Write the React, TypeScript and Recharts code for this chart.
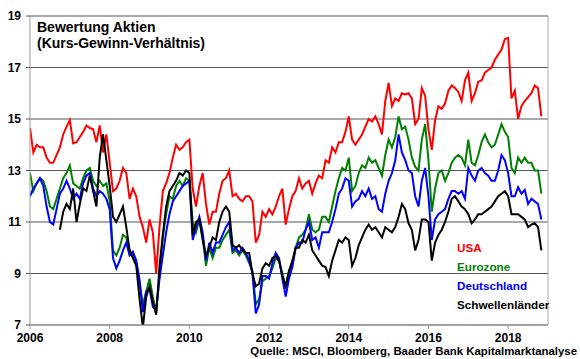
import React from 'react';
import { LineChart, Line, XAxis, YAxis, CartesianGrid, ReferenceLine } from 'recharts';

const FONT = '"Liberation Sans", Arial, sans-serif';

const startYear = 2006; // monthly observations, Jan 2006 .. Nov 2018
const xTicks = [2006, 2008, 2010, 2012, 2014, 2016, 2018];
const yTicks = [7, 9, 11, 13, 15, 17, 19];

const titleLines = ['Bewertung Aktien', '(Kurs-Gewinn-Verhältnis)'];
const seriesNames = ['USA', 'Eurozone', 'Deutschland', 'Schwellenländer'];
const seriesColors = ['#ff0000', '#008000', '#0000ff', '#000000'];
const source = 'Quelle: MSCI, Bloomberg, Baader Bank Kapitalmarktanalyse';

const usa = [
  14.65, 13.7, 14.0, 13.9, 13.9, 13.5, 13.3, 13.3, 13.6, 13.9, 14.4, 14.7,
  14.95, 14.05, 14.1, 14.3, 14.5, 14.75, 14.65, 14.6, 14.1, 14.75, 13.7, 14.4,
  13.3, 12.2, 12.3, 12.6, 13.1, 12.9, 11.9, 12.3, 12.0, 11.2, 10.8, 10.2,
  11.1, 10.6, 9.0, 10.8, 12.2, 12.5, 12.9, 13.5, 14.0, 13.8, 13.9, 14.1,
  14.2, 12.3, 11.6, 12.4, 12.9, 11.7, 10.9, 11.4, 11.4, 12.1, 12.6, 12.7,
  13.0, 12.0, 12.1, 11.9, 11.8, 12.0, 12.0, 11.8, 10.2, 10.5, 11.4, 11.2,
  11.5, 11.3, 11.6, 12.0, 12.3, 10.9, 11.5, 12.0, 12.2, 12.7, 12.3, 12.5,
  12.6, 12.1, 12.5, 12.8, 12.7, 13.4, 13.3, 13.9, 13.7, 14.1, 14.1, 14.5,
  15.1, 14.2, 14.0, 14.2, 14.4, 14.7, 15.0, 14.9, 15.1, 14.8, 14.4, 15.7,
  16.4, 15.5, 15.8, 15.7, 16.0, 15.95, 16.0, 15.8, 14.8, 15.0, 16.2, 15.9,
  14.6, 13.8, 14.95, 15.5, 15.4, 15.6, 16.1, 16.3, 16.2, 16.05, 15.7, 16.5,
  16.8, 15.7, 16.0, 16.45, 16.5, 16.8, 16.9, 17.0, 17.3, 17.5, 17.7, 18.1,
  18.15, 15.8, 16.1, 15.0, 15.5, 15.7, 15.85, 16.0, 16.3, 16.2, 15.1,
];

const eurozone = [
  12.9, 12.2, 12.5, 12.7, 12.6, 12.2, 11.6, 11.5, 11.9, 12.3, 12.7, 12.9,
  13.2, 12.5, 12.4, 12.3, 12.7, 13.0, 13.1, 12.6, 12.4, 12.6, 12.4, 12.5,
  11.8, 9.9, 9.7, 10.0, 10.5, 10.4, 9.9, 9.7, 9.4, 8.6, 7.8, 8.3,
  8.8, 8.1, 7.5, 8.9, 10.4, 11.3, 12.0, 11.9, 12.4, 12.6, 12.4, 12.7,
  12.6, 11.0, 10.6, 11.1, 10.4, 9.3, 10.0, 9.6, 10.0, 10.0, 10.3, 10.5,
  10.7, 9.8, 9.9, 9.7, 9.9, 9.7, 9.4, 9.1, 7.8, 8.0, 8.7, 8.8,
  8.9, 9.2, 9.6, 9.5, 9.0, 8.5, 9.1, 9.3, 10.0, 10.4, 10.5, 10.7,
  11.3, 10.7, 10.6, 10.7, 11.2, 11.2, 11.0, 11.6, 12.2, 12.7, 13.1, 13.0,
  13.5, 12.2, 12.4, 12.9, 13.2, 13.1, 13.5, 13.3, 13.4, 13.1, 12.8, 13.6,
  14.2, 13.9, 14.3, 15.1, 14.6, 14.7, 14.2, 13.5, 13.15, 13.0, 14.2, 14.8,
  13.4, 11.4, 12.3, 12.9, 13.0, 12.6, 12.9, 13.3, 13.5, 13.6, 13.5, 13.2,
  14.2, 13.3, 13.2, 13.6, 14.1, 14.4, 14.1, 13.9, 14.0, 14.4, 14.8, 14.5,
  14.3, 13.1, 12.9, 13.5, 13.3, 13.5, 13.3, 13.3, 13.0, 13.0, 12.1,
];

const deutschland = [
  12.0, 12.3, 12.5, 12.7, 12.4, 11.6, 11.0, 10.9, 11.5, 12.1, 12.3, 12.6,
  12.3, 11.9, 12.1, 11.9, 12.5, 12.8, 12.9, 12.3, 12.0, 12.2, 12.1, 11.9,
  11.5, 9.6, 9.2, 9.5, 9.9, 10.2, 9.7, 9.85, 9.5, 8.75, 7.5, 8.3,
  8.4, 7.7, 7.6, 8.8, 9.7, 10.6, 11.3, 11.8, 12.0, 12.2, 12.4, 12.5,
  12.6, 10.3, 10.8, 11.2, 10.6, 9.5, 10.2, 9.8, 10.2, 10.2, 10.5, 10.8,
  11.0, 9.9, 10.0, 9.8, 10.0, 9.8, 9.5, 9.0, 7.45, 7.8, 8.9, 8.9,
  8.8, 9.4, 9.8, 9.6, 8.8, 8.1, 8.8, 9.25, 10.0, 10.2, 10.2, 10.7,
  11.0, 10.3, 10.4, 10.0, 10.6, 10.6, 10.6, 11.0, 11.5, 12.1, 12.3, 12.7,
  12.6, 11.6, 11.8, 11.9, 12.2, 12.0, 12.3, 11.9, 12.0, 11.5, 11.4, 12.1,
  12.6, 12.9, 13.4, 14.4, 13.7, 13.4, 13.0, 12.9, 12.0, 11.6, 12.6, 13.1,
  12.0, 10.3, 11.1, 11.3, 11.4, 11.5, 11.9, 12.2, 12.2, 12.1, 12.2, 11.9,
  13.1, 12.8, 12.6, 13.0, 13.1, 12.9, 12.8, 12.6, 12.6, 13.0, 13.6, 13.4,
  12.9, 12.0, 12.0, 12.35, 12.1, 12.25, 11.7, 11.9, 11.8, 11.7, 11.1,
];

const schwellenlaender = [
  null, null, null, null, null, null, null, null, null, 10.7, 11.4, 11.7,
  11.5, 12.3, 11.0, 11.7, 12.3, 12.2, 12.8, 12.2, 11.6, 13.5, 14.4, 13.4,
  12.4, 11.2, 11.0, 11.3, 11.6, 10.8, 9.9, 9.6, 9.3, 8.0, 6.9, 8.1,
  8.5, 7.9, 7.4, 9.3, 10.5, 11.6, 12.2, 12.4, 12.6, 12.9, 12.8, 13.0,
  12.9, 10.5, 11.0, 11.1, 10.3, 9.7, 10.0, 10.4, 10.3, 11.0, 11.4, 11.6,
  11.4, 10.1, 10.0, 10.1, 9.9, 9.8, 9.8, 9.0, 8.5, 8.6, 9.2, 9.4,
  9.3, 9.6, 9.7, 9.5, 8.9, 8.5, 9.1, 9.5, 10.0, 10.0, 10.3, 10.2,
  10.5, 9.9, 9.7, 9.5, 9.3, 9.25, 8.9, 9.5, 9.9, 10.3, 10.2, 10.4,
  10.3, 9.3, 9.6, 10.1, 10.4, 10.7, 10.9, 10.7, 10.8, 10.6, 10.4, 10.8,
  10.7, 10.6, 10.8, 11.2, 11.7, 11.5, 10.95, 10.7, 9.9, 10.3, 11.1, 11.1,
  11.0, 9.5, 10.2, 10.5, 10.7, 11.0, 11.4, 11.9, 12.0, 11.8, 11.6, 11.5,
  11.3, 10.95, 11.1, 11.3, 11.3, 11.4, 11.5, 11.6, 11.8, 12.0, 12.1, 12.2,
  12.0, 11.3, 11.3, 11.3, 11.2, 11.1, 10.8, 10.9, 10.95, 10.8, 9.9,
];

const data = usa.map((v, i) => ({
  t: startYear + i / 12,
  usa: v,
  eurozone: eurozone[i],
  deutschland: deutschland[i],
  schwellen: schwellenlaender[i],
}));

const seriesKeys = ['usa', 'eurozone', 'deutschland', 'schwellen'];

const tickStyle = { fill: '#000', fontSize: 12, fontWeight: 700, fontFamily: FONT };

export default function App() {
  return (
    <div style={{ position: 'absolute', left: 0, top: 0, width: 580, height: 359, background: '#fff' }}>
      <LineChart width={580} height={359} data={data} margin={{ top: 16, right: 32, left: 0, bottom: 0 }}>
        <CartesianGrid horizontal vertical={false} stroke="#555" strokeWidth={1} />
        <XAxis
          dataKey="t"
          type="number"
          domain={[2006, 2019]}
          ticks={xTicks}
          allowDataOverflow
          height={34}
          tickSize={4}
          tickMargin={4}
          stroke="#999"
          tick={tickStyle}
          interval={0}
        />
        <YAxis
          type="number"
          domain={[7, 19]}
          ticks={yTicks}
          allowDataOverflow
          width={30}
          tickSize={4}
          tickMargin={5}
          stroke="#999"
          tickLine={{ stroke: '#555' }}
          tick={tickStyle}
          interval={0}
        />
        <ReferenceLine x={2019} stroke="#aaa" strokeWidth={1} />
        {seriesKeys.map((k, i) => (
          <Line
            key={k}
            dataKey={k}
            type="linear"
            stroke={seriesColors[i]}
            strokeWidth={2}
            dot={false}
            activeDot={false}
            isAnimationActive={false}
            connectNulls={false}
          />
        ))}
      </LineChart>
      <svg width={580} height={359} style={{ position: 'absolute', left: 0, top: 0, pointerEvents: 'none' }}>
        <g fontFamily={FONT} fontWeight={700}>
          <text x={37} y={31.7} fontSize={14} fill="#000">{titleLines[0]}</text>
          <text x={37} y={47.8} fontSize={14} fill="#000">{titleLines[1]}</text>
          {seriesNames.map((n, i) => (
            <text key={n} x={457} y={251.7 + i * 19.2} fontSize={11.7} fill={seriesColors[i]}>{n}</text>
          ))}
          <text x={577} y={354.5} fontSize={11.4} textAnchor="end" fill="#000">{source}</text>
        </g>
      </svg>
    </div>
  );
}
